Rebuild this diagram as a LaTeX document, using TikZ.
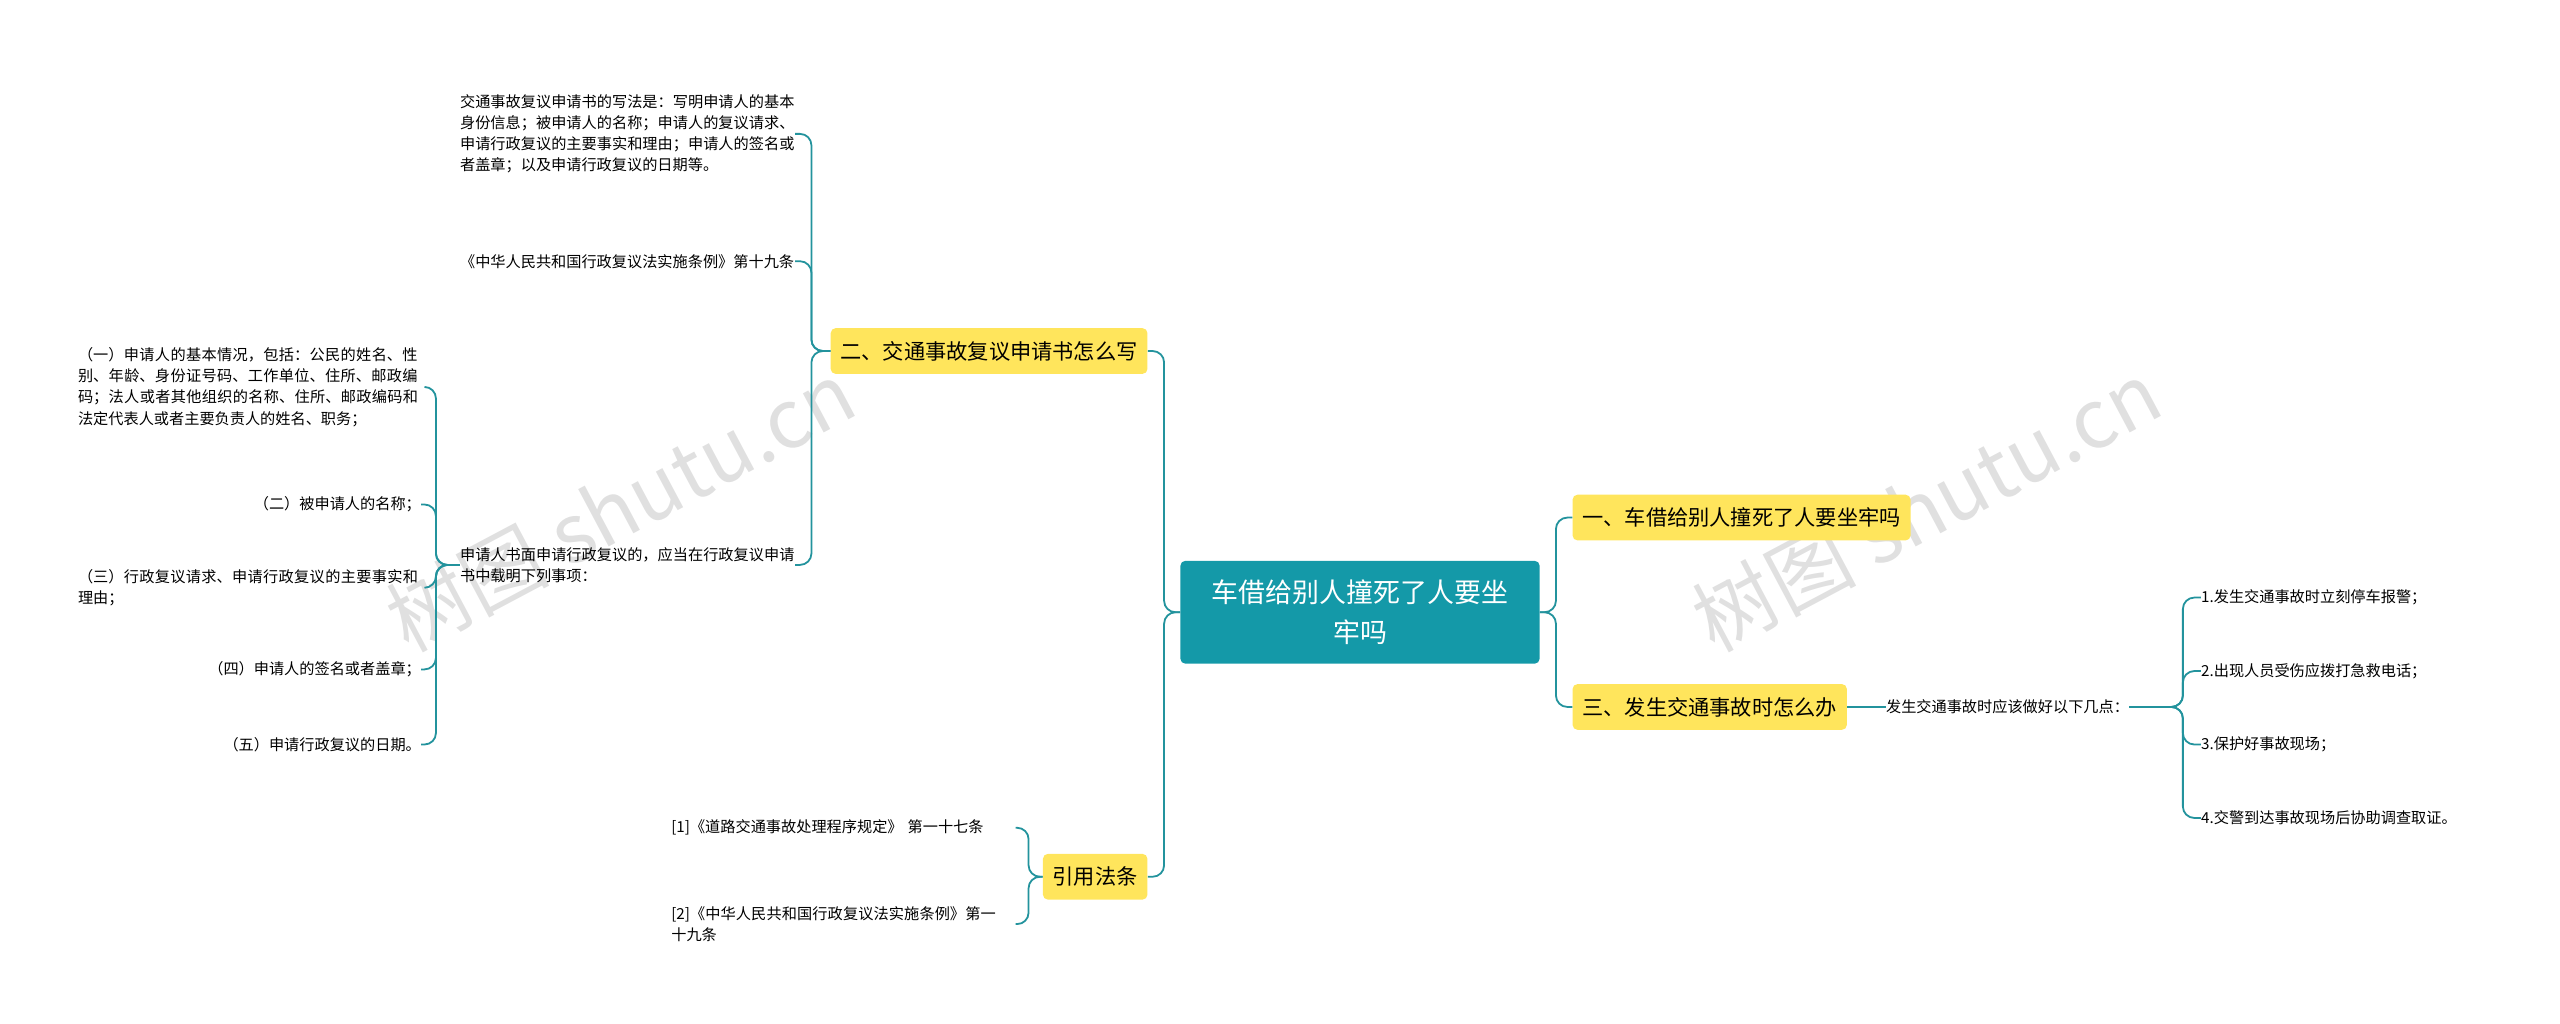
\documentclass[tikz,border=0pt]{standalone}
\usepackage{fontspec}
\setmainfont{Noto Sans CJK SC}
\XeTeXlinebreaklocale "zh"
\XeTeXlinebreakskip=0pt plus 1pt
\definecolor{teal1}{HTML}{1499A8}
\definecolor{yel}{HTML}{FFE55C}
\definecolor{ln}{HTML}{23939D}
\begin{document}
\begin{tikzpicture}[x=1pt,y=-1pt,
 br/.style={fill=yel,rounded corners=3pt,font=\fontsize{13}{15}\selectfont,inner xsep=6pt,minimum height=28pt,anchor=west},
 lf/.style={font=\fontsize{9.3}{13}\selectfont,inner sep=0pt,align=left},
 cn/.style={draw=ln,line width=1.1pt,rounded corners=7pt}]
\useasboundingbox (0,0) rectangle (1568,627);
\node[rotate=28,text=black!12,font=\fontsize{50}{50}\selectfont] (w1) at (380,310) {树图 shutu.cn};
\node[rotate=28,text=black!12,font=\fontsize{50}{50}\selectfont] (w2) at (1180,310) {树图 shutu.cn};
\node[fill=teal1,rounded corners=3pt,text=white,align=center,minimum width=220pt,minimum height=63pt,font=\fontsize{16.5}{24}\selectfont] (root) at (833,375) {车借给别人撞死了人要坐\\牢吗};
\node[br] (r1) at (963,317) {一、车借给别人撞死了人要坐牢吗};
\node[br] (r3) at (963,433) {三、发生交通事故时怎么办};
\node[br,anchor=east] (l2) at (703,215) {二、交通事故复议申请书怎么写};
\node[br,anchor=east] (l4) at (703,537) {引用法条};
\draw[cn] (root.east) -- (953,375) |- (r1.west);
\draw[cn] (root.east) -- (953,375) |- (r3.west);
\draw[cn] (root.west) -- (713,375) |- (l2.east);
\draw[cn] (root.west) -- (713,375) |- (l4.east);
% right side
\node[lf,anchor=west] (r3a) at (1155,433) {发生交通事故时应该做好以下几点：};
\draw[cn] (r3.east) -- (r3a.west);
\foreach \t/\y [count=\i] in {1.发生交通事故时立刻停车报警；/366,2.出现人员受伤应拨打急救电话；/411,3.保护好事故现场；/456,4.交警到达事故现场后协助调查取证。/501}{
 \node[lf,anchor=west] (s\i) at (1348,\y) {\t};
 \draw[cn] (r3a.east) -- (1337,433) |- (s\i.west);
}
% left branch 二
\node[lf,anchor=east,text width=205pt] (a1) at (487,82) {交通事故复议申请书的写法是：写明申请人的基本身份信息；被申请人的名称；申请人的复议请求、申请行政复议的主要事实和理由；申请人的签名或者盖章；以及申请行政复议的日期等。};
\node[lf,anchor=east,text width=205pt] (a2) at (487,160) {《中华人民共和国行政复议法实施条例》第十九条};
\node[lf,anchor=east,text width=205pt] (a3) at (487,346) {申请人书面申请行政复议的，应当在行政复议申请书中载明下列事项：};
\foreach \n in {a1,a2,a3}{\draw[cn] (l2.west) -- (497,215) |- (\n.east);}
\node[lf,anchor=east,text width=212pt] (b1) at (260,237) {（一）申请人的基本情况，包括：公民的姓名、性别、年龄、身份证号码、工作单位、住所、邮政编码；法人或者其他组织的名称、住所、邮政编码和法定代表人或者主要负责人的姓名、职务；};
\node[lf,anchor=east] (b2) at (258,309) {（二）被申请人的名称；};
\node[lf,anchor=east,text width=212pt] (b3) at (260,360) {（三）行政复议请求、申请行政复议的主要事实和理由；};
\node[lf,anchor=east] (b4) at (258,410) {（四）申请人的签名或者盖章；};
\node[lf,anchor=east] (b5) at (258,456) {（五）申请行政复议的日期。};
\foreach \n in {b1,b2,b3,b4,b5}{\draw[cn] (a3.west) -- (267,346) |- (\n.east);}
% 引用法条
\node[lf,anchor=west,text width=200pt] (c1) at (411,507) {[1]《道路交通事故处理程序规定》 第一十七条};
\node[lf,anchor=west,text width=200pt] (c2) at (411,566) {[2]《中华人民共和国行政复议法实施条例》第一十九条};
\foreach \n/\y in {c1/507,c2/566}{\draw[cn] (l4.west) -- (630,537) |- (622,\y);}
\end{tikzpicture}
\end{document}
